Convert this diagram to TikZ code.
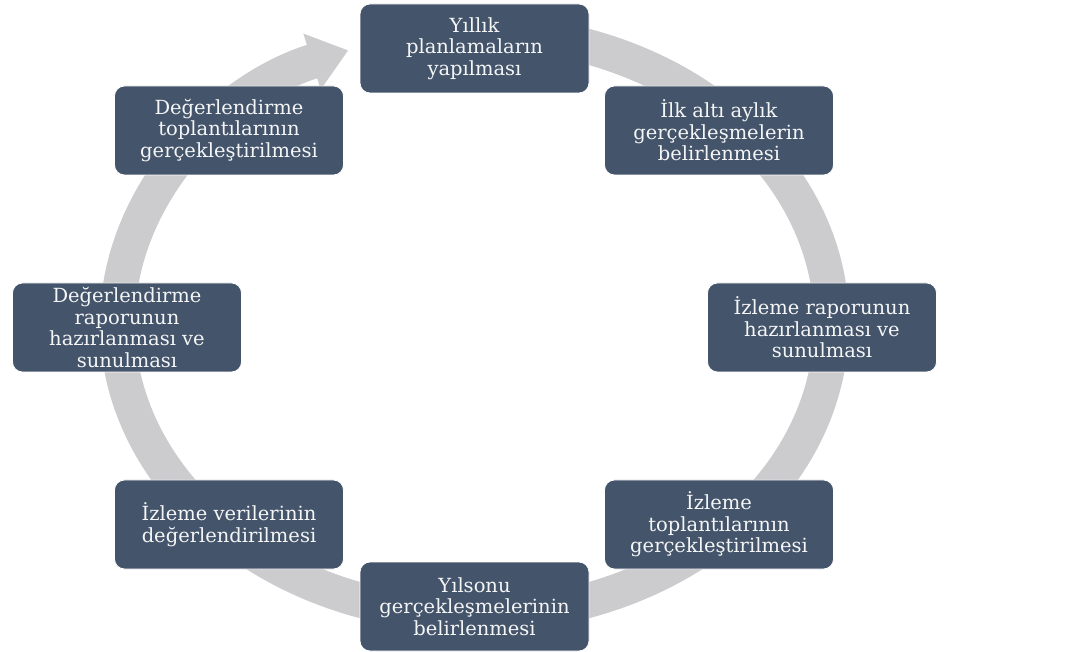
\documentclass[tikz,border=0pt]{standalone}
\usepackage{fontspec}
\newfontfamily\boxfont{DejaVu Serif}
\usetikzlibrary{arrows.meta}
\definecolor{boxblue}{RGB}{68,84,106}
\definecolor{ringgray}{RGB}{204,204,206}

\begin{document}
\begin{tikzpicture}
[x=1pt, y=1pt, phase node/.style={rectangle, rounded corners=10pt, fill=boxblue, draw=white, line width=0.8pt,
text=white!94!boxblue, minimum width=229pt, minimum height=89pt, inner sep=1pt, align=center,
font=\boxfont\fontsize{19.5}{21.5}\selectfont},
ring/.style={ringgray, line width=35pt, -{Triangle[width=56pt, length=38pt]}}]
\useasboundingbox (0,0) rectangle (1079,651);
\coordinate (c) at (474.5,327.5);

% the cycle arrow behind the boxes
\draw[ring] (c) ++(80:357pt and 292pt) arc[start angle=80, end angle=-249.3, x radius=357pt, y radius=292pt];

\node[phase node] (plan) at (474.5,602.5) {Yıllık\\planlamaların\\yapılması};
\node[phase node] (half) at (719,520.5) {İlk altı aylık\\gerçekleşmelerin\\belirlenmesi};
\node[phase node] (report) at (822,323.5) {İzleme raporunun\\hazırlanması ve\\sunulması};
\node[phase node] (meet) at (719,126.5) {İzleme\\toplantılarının\\gerçekleştirilmesi};
\node[phase node] (yearend) at (474.5,44.5) {Yılsonu\\gerçekleşmelerinin\\belirlenmesi};
\node[phase node] (data) at (229,126.5) {İzleme verilerinin\\değerlendirilmesi};
\node[phase node] (evalreport) at (127,323.5) {Değerlendirme\\raporunun\\hazırlanması ve\\sunulması};
\node[phase node] (evalmeet) at (229,520.5) {Değerlendirme\\toplantılarının\\gerçekleştirilmesi};
\end{tikzpicture}
\end{document}
